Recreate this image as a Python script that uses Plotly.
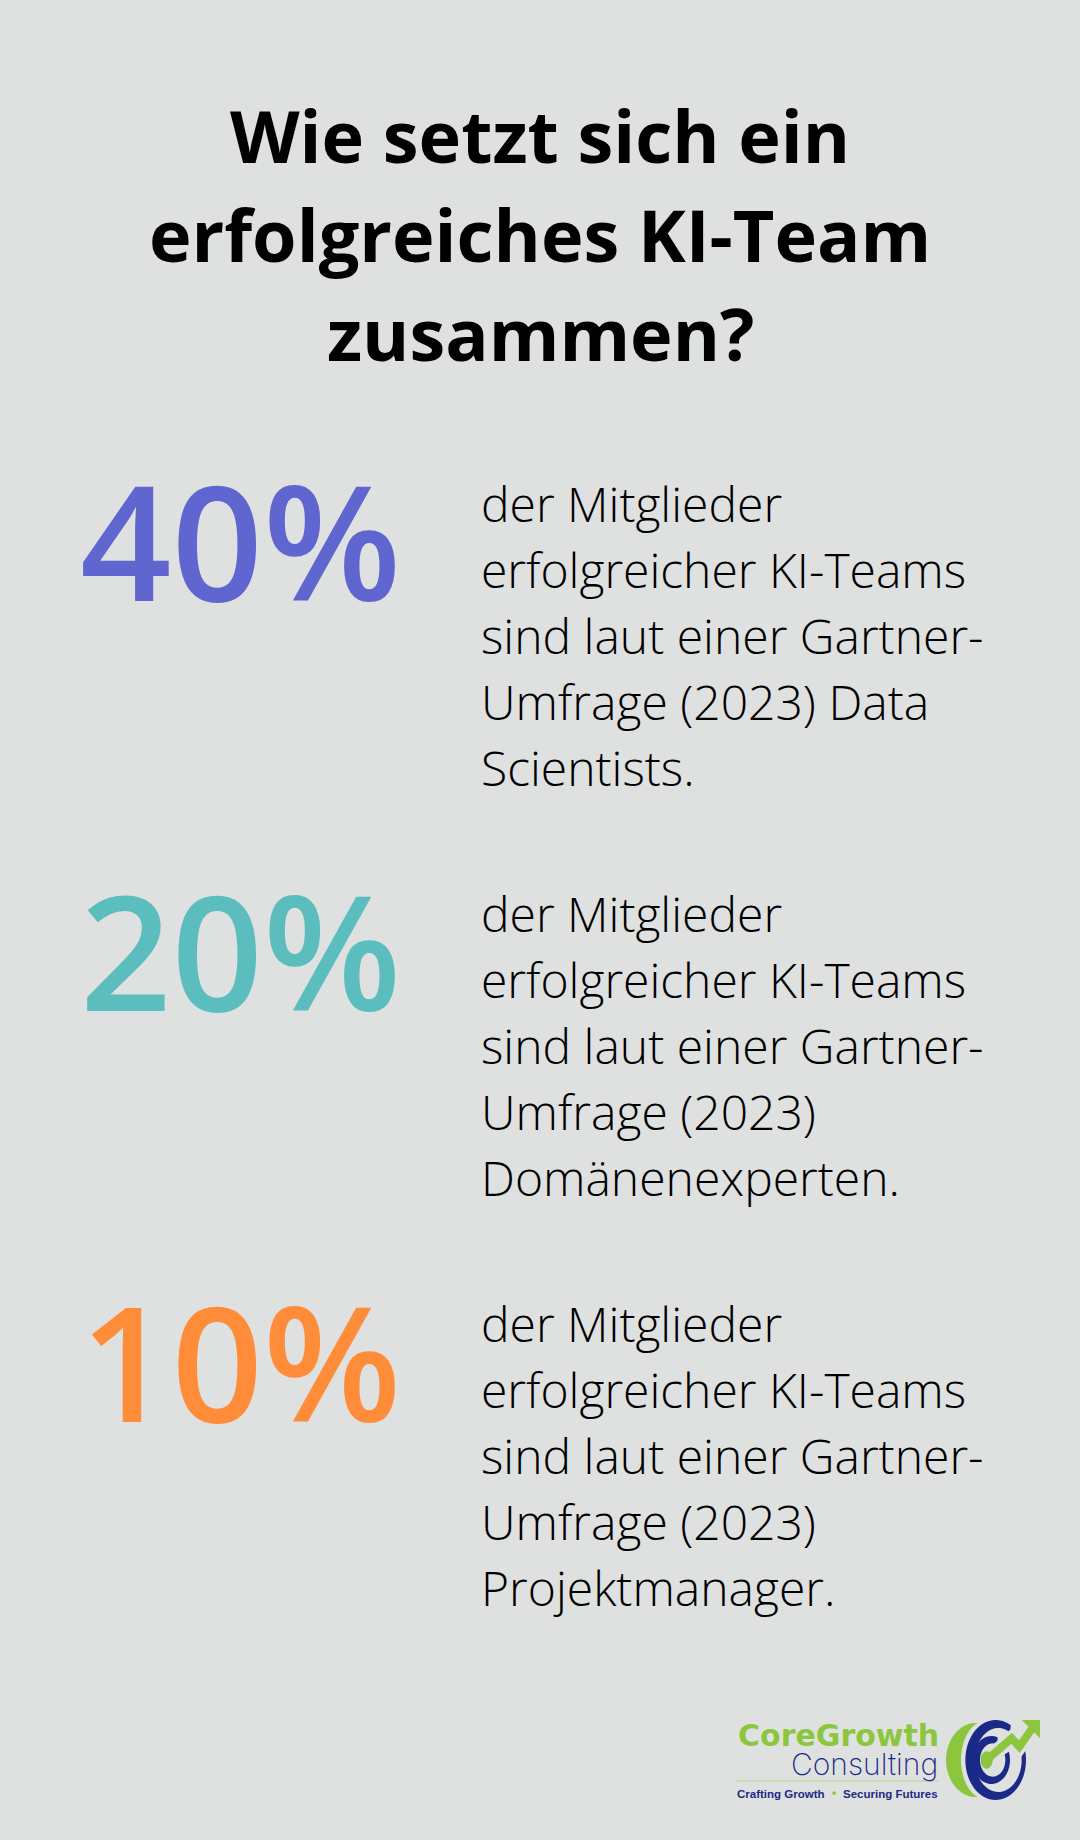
import numpy as np
import plotly.graph_objects as go

BG = "#DFE1E0"
TITLE_LINES = ["Wie setzt sich ein", "erfolgreiches KI-Team", "zusammen?"]
PERCENTS = ["40%", "20%", "10%"]
PERCENT_COLORS = ["#6066D0", "#5CBDBE", "#FF8C38"]
BODY_BLOCKS = [
    ["der Mitglieder", "erfolgreicher KI-Teams", "sind laut einer Gartner-", "Umfrage (2023) Data", "Scientists."],
    ["der Mitglieder", "erfolgreicher KI-Teams", "sind laut einer Gartner-", "Umfrage (2023)", "Domänenexperten."],
    ["der Mitglieder", "erfolgreicher KI-Teams", "sind laut einer Gartner-", "Umfrage (2023)", "Projektmanager."],
]
GREEN = "#8CC63F"
NAVY = "#1B2A86"

fig = go.Figure()
ann = []


def text(x, y, s, size, color, anchor="left", family="Open Sans", weight=400):
    ann.append(dict(x=x, y=y, xref="x", yref="y", text=s, showarrow=False, xanchor=anchor,
                    yanchor="middle", align=anchor,
                    font=dict(family=family, size=size, color=color, weight=weight)))


TITLE_Y = [135, 234, 333]
for line, y in zip(TITLE_LINES, TITLE_Y):
    text(540, y, line, 72, "#000000", "center", weight=700)

BLOCK_STEP = 410.4
for i, (p, c, block) in enumerate(zip(PERCENTS, PERCENT_COLORS, BODY_BLOCKS)):
    off = i * BLOCK_STEP
    text(403, 539 + off, p, 160, c, "right", weight=600)
    for j, line in enumerate(block):
        text(479, 503 + off + j * 66, line, 48, "#000000", weight=300)


# logo, authored in reference zoom coordinates
def zx(v):
    return 700 + np.asarray(v, float) / 3


def zy(v):
    return 1690 + np.asarray(v, float) / 3


def path(xs, ys, close=True):
    pts = [f"{a:.2f},{b:.2f}" for a, b in zip(zx(xs), zy(ys))]
    return "M" + " L".join(pts) + (" Z" if close else "")


def arc(cx, cy, rx, ry, a0, a1, n=60):
    t = np.radians(np.linspace(a0, a1, n))
    return cx + rx * np.cos(t), cy - ry * np.sin(t)


shapes = []


def fill(xs, ys, color):
    shapes.append(dict(type="path", path=path(xs, ys), fillcolor=color, line=dict(width=0), xref="x", yref="y"))


def ring(c_out, c_in, a0, a1, color):
    x1, y1 = arc(*c_out, a0, a1)
    x2, y2 = arc(*c_in, a1, a0)
    fill(np.r_[x1, x2], np.r_[y1, y2], color)


# crescent
x1, y1 = arc(830, 210, 92, 112, 100, 260)
x2, y2 = arc(858, 210, 75, 118, 250, 110)
fill(np.r_[x1, x2], np.r_[y1, y2], GREEN)
# navy rings
ring((887, 210, 91, 120), (895, 210, 70, 96), 60, 385, NAVY)
ring((874, 210, 56, 72), (878, 210, 38, 50), 70, 380, NAVY)
# arrow halo
shapes.append(dict(type="path", path=path([860, 935, 958, 1000], [210, 145, 170, 110], False),
                   line=dict(color=BG, width=15), xref="x", yref="y"))
# arrow
shapes.append(dict(type="path", path=path([860, 935, 958, 1000], [210, 145, 170, 110], False),
                   line=dict(color=GREEN, width=8), xref="x", yref="y"))
fill([965, 1020, 1020], [90, 90, 145], GREEN)
x1, y1 = arc(860, 210, 18, 26, 0, 360)
fill(x1, y1, GREEN)
# rule
shapes.append(dict(type="line", x0=736, x1=939, y0=1781, y1=1781, line=dict(color="#B4D98A", width=1), xref="x", yref="y"))

text(941, 1735, "CoreGrowth", 30, GREEN, "right", family="DejaVu Sans", weight=700)
text(940, 1764, "Consulting", 30, NAVY, "right", family="Inter", weight=200)
text(735, 1794, "Crafting Growth", 11.5, NAVY, "left", family="Liberation Sans", weight=700)
text(940, 1794, "Securing Futures", 11.5, NAVY, "right", family="Liberation Sans", weight=700)
text(834, 1793, "•", 12, GREEN, "center", family="Liberation Sans", weight=700)

fig.update_layout(
    width=1080, height=1840, margin=dict(l=0, r=0, t=0, b=0),
    paper_bgcolor=BG, plot_bgcolor=BG, showlegend=False,
    xaxis=dict(range=[0, 1080], visible=False, fixedrange=True),
    yaxis=dict(range=[1840, 0], visible=False, fixedrange=True),
    annotations=ann, shapes=shapes,
)
fig.write_html("out.html", config={"displayModeBar": False},
               post_script="document.body.style.margin='0';document.body.style.background='%s';" % BG)
